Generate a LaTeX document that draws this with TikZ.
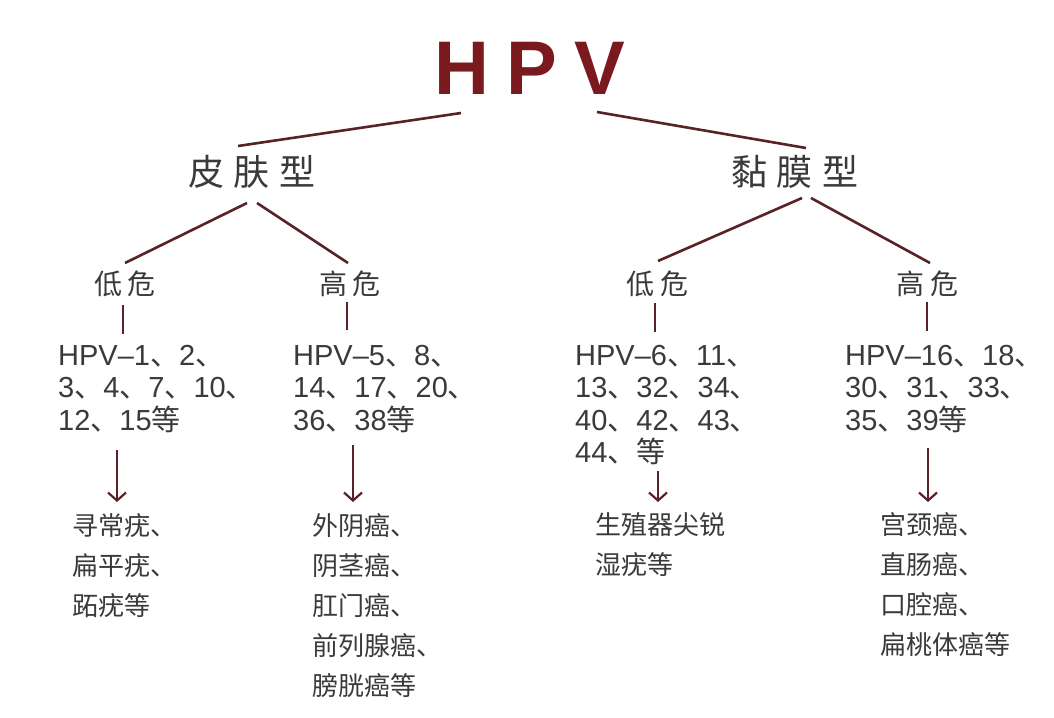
\documentclass[tikz,border=0pt]{standalone}
\usepackage{fontspec}
\setmainfont{Liberation Sans}
\newfontfamily\cjk{Noto Sans CJK SC}
\usetikzlibrary{arrows.meta}
\definecolor{hpvred}{RGB}{122,26,30}
\definecolor{linec}{RGB}{88,34,38}
\definecolor{txt}{RGB}{58,58,58}
\newcommand\Dun{{\cjk 、}}
\newcommand\Deng{{\cjk 等}}
\begin{document}
\begin{tikzpicture}[x=1pt,y=-1pt,
  conn/.style={draw=linec, line width=2.6pt},
  arr/.style={draw=linec, line width=2.2pt, -{Straight Barb[length=8pt,width=18pt]}},
  lbl/.style={text=txt, inner sep=0pt, font=\cjk\fontsize{36}{40}\selectfont},
  risk/.style={text=txt, inner sep=0pt, font=\cjk\fontsize{28}{32}\selectfont},
  nums/.style={text=txt, inner sep=0pt, anchor=north west, align=left, font=\fontsize{29}{32.5}\selectfont},
  dis/.style={text=txt, inner sep=0pt, anchor=north west, align=left, font=\cjk\fontsize{26}{40}\selectfont}]
\useasboundingbox[fill=white] (0,0) rectangle (1054,717);

\node[text=hpvred, inner sep=0pt, font=\bfseries\fontsize{76}{80}\selectfont] (hpv) at (530,68) {H\kern17pt P\kern17pt V};

\node[lbl] (pf) at (252,172) {皮\hspace{10pt}肤\hspace{10pt}型};
\node[lbl] (mm) at (795,172) {黏\hspace{10pt}膜\hspace{10pt}型};

\node[risk] (pl) at (125,284) {低\hspace{6pt}危};
\node[risk] (ph) at (350,284) {高\hspace{6pt}危};
\node[risk] (ml) at (657,284) {低\hspace{6pt}危};
\node[risk] (mh) at (927,284) {高\hspace{6pt}危};

\node[nums] (n1) at (58,345) {HPV--1\Dun2\Dun\\3\Dun4\Dun7\Dun10\Dun\\12\Dun15\Deng};
\node[nums] (n2) at (293,345) {HPV--5\Dun8\Dun\\14\Dun17\Dun20\Dun\\36\Dun38\Deng};
\node[nums] (n3) at (575,345) {HPV--6\Dun11\Dun\\13\Dun32\Dun34\Dun\\40\Dun42\Dun43\Dun\\44\Dun\Deng};
\node[nums] (n4) at (845,345) {HPV--16\Dun18\Dun\\30\Dun31\Dun33\Dun\\35\Dun39\Deng};

\node[dis] (d1) at (72,513) {寻常疣、\\扁平疣、\\跖疣等};
\node[dis] (d2) at (312,513) {外阴癌、\\阴茎癌、\\肛门癌、\\前列腺癌、\\膀胱癌等};
\node[dis] (d3) at (595,512) {生殖器尖锐\\湿疣等};
\node[dis] (d4) at (880,512) {宫颈癌、\\直肠癌、\\口腔癌、\\扁桃体癌等};

% top level
\draw[conn] ([shift={(-69,45)}]hpv.center) -- ([shift={(-14,-26)}]pf.center);
\draw[conn] ([shift={(67,44)}]hpv.center) -- ([shift={(11,-24)}]mm.center);
% second level
\draw[conn] ([shift={(-5,31)}]pf.center) -- ([shift={(0,-21)}]pl.center);
\draw[conn] ([shift={(5,31)}]pf.center) -- ([shift={(-2,-21)}]ph.center);
\draw[conn] ([shift={(7,26)}]mm.center) -- ([shift={(1,-23)}]ml.center);
\draw[conn] ([shift={(16,26)}]mm.center) -- ([shift={(3,-21)}]mh.center);
% verticals
\draw[conn] ([shift={(-2,21)}]pl.center) -- ([shift={(65,-11)}]n1.north west);
\draw[conn] ([shift={(-3,18)}]ph.center) -- ([shift={(54,-15)}]n2.north west);
\draw[conn] ([shift={(-2,19)}]ml.center) -- ([shift={(80,-13)}]n3.north west);
\draw[conn] ([shift={(0,18)}]mh.center) -- ([shift={(82,-14)}]n4.north west);
% arrows
\draw[arr] ([shift={(59,17)}]n1.south west) -- ([shift={(45,-11)}]d1.north west);
\draw[arr] ([shift={(60,12)}]n2.south west) -- ([shift={(41,-11)}]d2.north west);
\draw[arr] ([shift={(83,6)}]n3.south west) -- ([shift={(63,-10)}]d3.north west);
\draw[arr] ([shift={(83,15)}]n4.south west) -- ([shift={(48,-10)}]d4.north west);
\end{tikzpicture}
\end{document}
